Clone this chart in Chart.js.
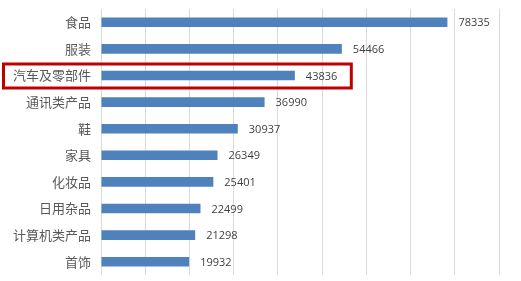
<!DOCTYPE html>
<html><head><meta charset="utf-8">
<script src="https://cdn.jsdelivr.net/npm/chart.js@4/dist/chart.umd.min.js"></script>
<style>html,body{margin:0;padding:0;background:#fff}#wrap{width:521px;height:281px}</style>
</head><body><div id="wrap"><canvas id="c" width="521" height="281"></canvas></div>
<script>
const categories = ['食品','服装','汽车及零部件','通讯类产品','鞋','家具','化妆品','日用杂品','计算机类产品','首饰'];
const values = [78335,54466,43836,36990,30937,26349,25401,22499,21298,19932];
const highlightIndex = 2;
const xMax = 90000, xStep = 10000;

const labelPlugin = {
  id: 'labels',
  afterDatasetsDraw(chart) {
    const ctx = chart.ctx;
    const meta = chart.getDatasetMeta(0);
    ctx.save();
    ctx.font = '11px "Open Sans", "Liberation Sans", sans-serif';
    ctx.fillStyle = '#404040';
    ctx.textBaseline = 'middle';
    ctx.textAlign = 'left';
    meta.data.forEach((bar, i) => {
      ctx.fillText(String(values[i]), bar.x + 11, bar.y + 1);
    });
    const bar = meta.data[highlightIndex];
    const w = ctx.measureText(String(values[highlightIndex])).width;
    ctx.strokeStyle = '#c00000';
    ctx.lineWidth = 3;
    ctx.strokeRect(3.5, bar.y - 11.5, bar.x + 11 + w + 14 - 3.5, 24);
    ctx.restore();
  }
};

new Chart(document.getElementById('c'), {
  type: 'bar',
  data: { labels: categories, datasets: [{ data: values, backgroundColor: '#4f81bd', barPercentage: 0.36, categoryPercentage: 1 }] },
  options: {
    indexAxis: 'y', responsive: false, animation: false, devicePixelRatio: 1,
    layout: { padding: { left: 0, right: 22, top: 9, bottom: 6 } },
    plugins: { legend: { display: false }, tooltip: { enabled: false } },
    scales: {
      x: { min: 0, max: xMax, ticks: { display: false, stepSize: xStep },
           grid: { color: '#d9d9d9', drawTicks: false }, border: { display: false },
           afterFit(s) { s.height = 0; s.paddingLeft = 0; s.paddingRight = 0; } },
      y: { grid: { display: false, drawTicks: false }, border: { display: false },
           ticks: { padding: 10, color: '#595959', font: { family: '"Noto Sans CJK SC"', size: 13 } },
           afterFit(s) { s.width = 101; s.paddingTop = 0; s.paddingBottom = 0; } }
    }
  },
  plugins: [labelPlugin]
});
</script></body></html>
